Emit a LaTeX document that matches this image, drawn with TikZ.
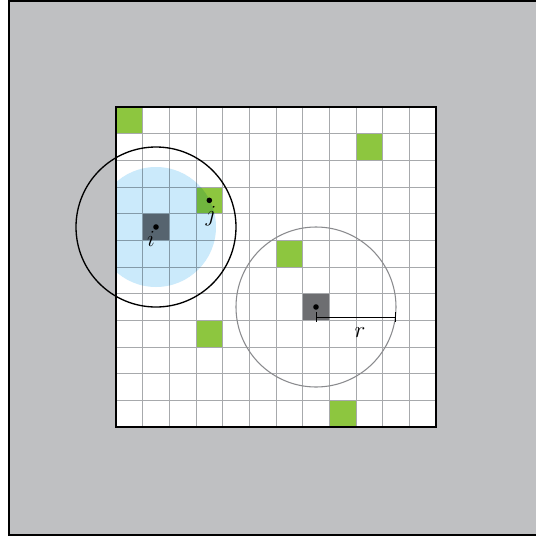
\documentclass[tikz,border=0pt]{standalone}
\usepackage{tikz}
\definecolor{bggray}{HTML}{BFC0C2}
\definecolor{cellgreen}{HTML}{8DC63F}
\definecolor{cellgray}{HTML}{6D6E71}
\definecolor{lightblue}{HTML}{CBEAFB}
\definecolor{gridgray}{HTML}{A7A9AC}
\definecolor{circgray}{HTML}{8A8B8E}
\tikzset{
  gridline/.style={gridgray, line width=0.6pt},
  greencell/.style={fill=cellgreen},
  graycell/.style={fill=cellgray},
  dotnode/.style={circle, fill=black, inner sep=0pt, minimum size=4.2pt},
  lbl/.style={inner sep=0pt, font=\fontsize{16}{18}\selectfont},
}
\begin{document}
\begin{tikzpicture}[x=20pt,y=-20pt]
\useasboundingbox (-4.35,-4.0125) rectangle (15.75,16.125);
\clip (-4.35,-4.0125) rectangle (15.75,16.125);
% background panel
\filldraw[fill=bggray, draw=black, line width=1.5pt] (-4.0125,-3.975) rectangle (16.5,16.04);
% grid area
\fill[white] (0,0) rectangle (12,12);
\foreach \c/\r in {0/0,9/1,3/3,6/5,3/8,8/11}
  \fill[greencell] (\c,\r) rectangle ++(1,1);
\foreach \c/\r in {1/4,7/7}
  \fill[graycell] (\c,\r) rectangle ++(1,1);
\foreach \k in {1,...,11} {
  \draw[gridline] (\k,0) -- (\k,12);
  \draw[gridline] (0,\k) -- (12,\k);
}
\begin{scope}
  \clip (0,0) rectangle (12,12);
  \fill[lightblue, blend mode=multiply] (1.5,4.5) circle (2.25);
\end{scope}
\draw[black, line width=1.7pt] (0,0) rectangle (12,12);
% circles
\coordinate (ci) at (1.5,4.5);
\coordinate (ck) at (7.5,7.5);
\draw[black, line width=1pt] (ci) circle (3);
\draw[circgray, line width=0.8pt] (ck) circle (3);
% dots and labels
\node[dotnode] (i) at (ci) {};
\node[dotnode] (j) at (3.5,3.5) {};
\node[dotnode] (k) at (ck) {};
\node[lbl] (li) at (1.31,4.95) {$i$};
\node[lbl] (lj) at (3.56,4.09) {$j$};
\node[lbl] (lr) at (9.15,8.47) {$r$};
% radius
\coordinate (ra) at (7.5,7.886);
\coordinate (rb) at (10.5,7.886);
\draw[black, line width=0.8pt, |-|] (ra) -- (rb);
\end{tikzpicture}
\end{document}
